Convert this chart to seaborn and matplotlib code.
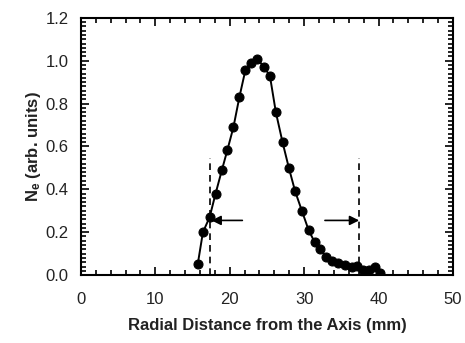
import matplotlib
matplotlib.use("Agg")
import matplotlib.pyplot as plt
from matplotlib.ticker import MultipleLocator
import seaborn as sns
import pandas as pd

radius_mm = [15.7, 16.4, 17.3, 18.1, 18.95, 19.7, 20.5, 21.3, 22.1, 22.9, 23.7,
             24.6, 25.4, 26.2, 27.1, 27.95, 28.8, 29.7, 30.6, 31.4, 32.2, 33.0,
             33.8, 34.6, 35.5, 36.4, 37.1, 37.9, 38.7, 39.5, 40.2]
density = [0.05, 0.20, 0.27, 0.38, 0.49, 0.585, 0.69, 0.83, 0.955, 0.99, 1.01,
           0.97, 0.93, 0.76, 0.62, 0.50, 0.39, 0.30, 0.21, 0.155, 0.12, 0.083,
           0.067, 0.055, 0.047, 0.036, 0.042, 0.026, 0.026, 0.036, 0.011]
boundary_x = [17.35, 37.4]
boundary_top = 0.545
arrow_y = 0.255
arrow_from = [21.7, 32.8]

sns.set_style("ticks")
plt.rcParams['font.family'] = ['Liberation Sans', 'DejaVu Sans']
plt.rcParams['text.color'] = 'black'
plt.rcParams['axes.labelcolor'] = 'black'
plt.rcParams['mathtext.fontset'] = 'custom'
plt.rcParams['mathtext.rm'] = 'Liberation Sans:bold'
plt.rcParams['mathtext.bf'] = 'Liberation Sans:bold'
plt.rcParams['mathtext.it'] = 'Liberation Sans:bold'

df = pd.DataFrame({"r": radius_mm, "n": density})

fig = plt.figure(figsize=(4.65, 3.43), dpi=100)
ax = fig.add_axes([0.174, 0.198, 0.800, 0.750])

sns.lineplot(data=df, x="r", y="n", ax=ax, color="black", linewidth=1.4,
             marker="o", markersize=6.5, markeredgecolor="black",
             markerfacecolor="black", sort=False)

for bx in boundary_x:
    ax.plot([bx, bx], [0, boundary_top], color="black", linestyle=(0, (4, 3)),
            linewidth=1.2)

ax.annotate("", xy=(boundary_x[0] + 0.2, arrow_y), xytext=(arrow_from[0], arrow_y),
            arrowprops=dict(arrowstyle="-|>", color="black", lw=1.2,
                            mutation_scale=14, shrinkA=0, shrinkB=0))
ax.annotate("", xy=(boundary_x[1], arrow_y), xytext=(arrow_from[1], arrow_y),
            arrowprops=dict(arrowstyle="-|>", color="black", lw=1.2,
                            mutation_scale=14, shrinkA=0, shrinkB=0))

ax.set_xlim(0, 50)
ax.set_ylim(0, 1.2)
ax.xaxis.set_major_locator(MultipleLocator(10))
ax.xaxis.set_minor_locator(MultipleLocator(2))
ax.yaxis.set_major_locator(MultipleLocator(0.2))
ax.yaxis.set_minor_locator(MultipleLocator(0.02))
ax.yaxis.set_major_formatter(matplotlib.ticker.FormatStrFormatter('%.1f'))
ax.tick_params(which="both", direction="in", top=True, right=True,
               labelsize=12, colors="black", labelcolor="#222222", width=1.2)
ax.tick_params(which="major", length=6)
ax.tick_params(which="minor", length=3.5)
ax.tick_params(axis="x", which="major", pad=12)
ax.tick_params(axis="y", which="major", pad=9)
for s in ax.spines.values():
    s.set_visible(True)
    s.set_linewidth(1.5)
    s.set_color("black")

ax.set_xlabel("Radial Distance from the Axis (mm)", fontsize=12,
              fontweight="bold", labelpad=8, color="#222222")
ax.set_ylabel(r"N$_\mathbf{e}$ (arb. units)", fontsize=12, fontweight="bold",
              labelpad=2, color="#222222")

fig.savefig("out.png", dpi=100)
